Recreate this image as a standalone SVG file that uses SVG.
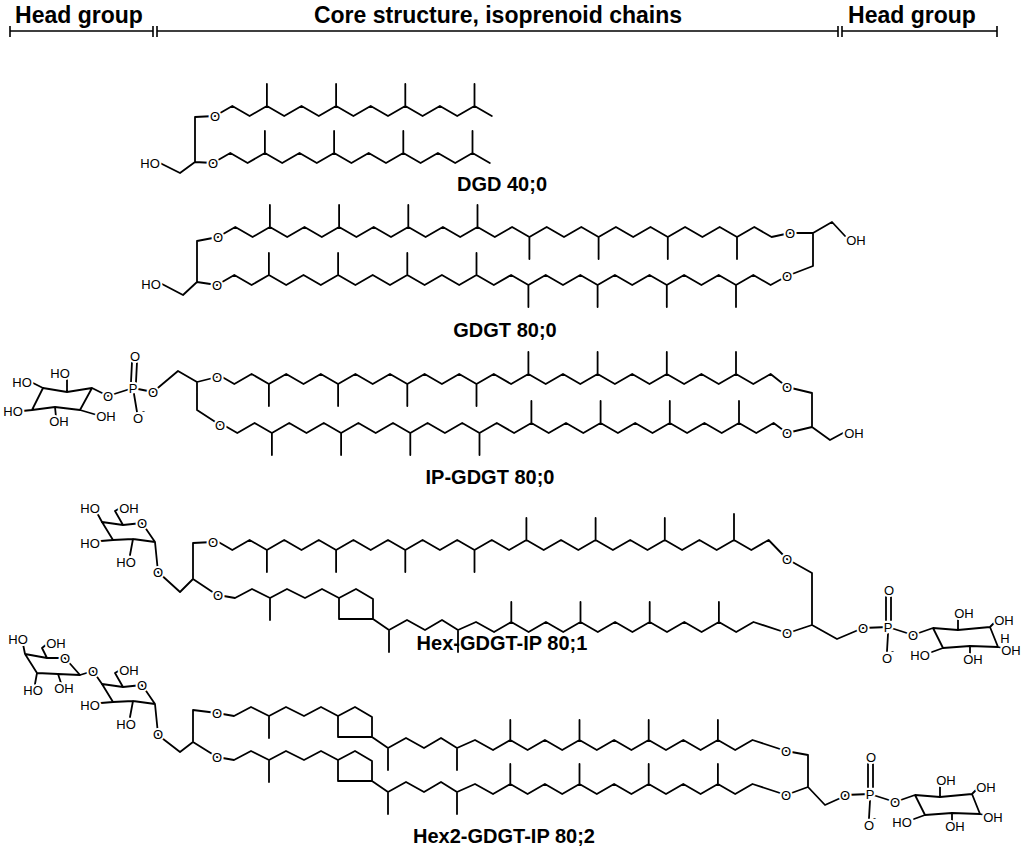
<svg xmlns="http://www.w3.org/2000/svg" xmlns:xlink="http://www.w3.org/1999/xlink" width="1024" height="856" viewBox="0 0 1024 856">
<style>
.b{fill:none;stroke:#000;stroke-width:1.8;stroke-linejoin:round;stroke-linecap:round}
.a{font-family:"Liberation Sans",Arial,sans-serif;font-size:13px;text-anchor:middle}
.c{font-family:"Liberation Sans",Arial,sans-serif;font-size:9px}
.t{font-family:"Liberation Sans",Arial,sans-serif;font-weight:bold;font-size:23px;text-anchor:middle;fill:#000}
.n{font-family:"Liberation Sans",Arial,sans-serif;font-weight:bold;font-size:20px;text-anchor:middle;fill:#000}
.h{fill:none;stroke:#000;stroke-width:1.6}
</style>
<defs>
<path id="cp" class="b" d="M218,595 L235,598 L252,589 L270,598 L287,589 L305,598 L322,589 L339,598 M270,598 V620 M339,598 L356,589 L373,599 L373,619 L339,619 Z M373,619 L389,630 L407,620 L425,630 L442,620 L458,630 L476,622 L494,632 M389,630 V652 M458,630 V652 M494,632 l17.3,-10 v-20 m0,20 l17.3,10 l17.3,-10 l17.3,10 l17.3,-10 v-20 m0,20 l17.3,10 l17.3,-10 l17.3,10 l17.3,-10 v-20 m0,20 l17.3,10 l17.3,-10 l17.3,10 l17.3,-10 v-20 m0,20 l17.3,10 l17.3,-10 L787,633"/>
<g id="cpL">
<text class="a" x="218" y="600">O</text>
<text class="a" x="787" y="638">O</text>
</g>
<path id="ipR" class="b" d="M863,628 L888,627 M886,620 L886,597 M891,620 L891,597 M888,634 L887,651 M888,627 L913,635 L933,628 M933,628 L958,630 L990,627 L998,647 L970,646 L943,648 Z M958,630 L958,618 M990,627 L995,622 M998,647 L1002,648 M970,646 L970,654 M943,648 L932,652"/>
<g id="ipL">
<text class="a" x="863" y="633">O</text>
<text class="a" x="888" y="632">P</text>
<text class="a" x="889" y="595">O</text>
<text class="a" x="887" y="663">O</text>
<text class="c" x="891" y="654">-</text>
<text class="a" x="913" y="640">O</text>
<text class="a" x="964" y="618">OH</text>
<text class="a" x="1004" y="625">OH</text>
<text class="a" x="1011" y="655">OH</text>
<text class="a" x="973" y="664">OH</text>
<text class="a" x="920" y="660">HO</text>
</g>
<path id="hexring" class="b" d="M102,522 L123,525 L142,523 L155,542 L133,539 L113,540 Z M123,525 L115,511 L120,508 M113,540 L101,541 M133,539 L130,555 M155,542 L158,572"/>
<g id="hexL">
<text class="a" x="142" y="528">O</text>
<text class="a" x="129" y="513">OH</text>
<text class="a" x="90" y="548">HO</text>
<text class="a" x="126" y="567">HO</text>
<text class="a" x="158" y="577">O</text>
</g>
<g id="labels">
<g id="DGD">
<text class="a" x="215" y="121">O</text>
<text class="a" x="213" y="168">O</text>
<text class="a" x="150" y="168">HO</text>
</g>
<g id="GDGT">
<text class="a" x="218" y="242">O</text>
<text class="a" x="217" y="290">O</text>
<text class="a" x="151" y="289">HO</text>
<text class="a" x="790" y="238">O</text>
<text class="a" x="787" y="281">O</text>
<text class="a" x="856" y="245">OH</text>
</g>
<g id="IP-GDGT">
<text class="a" x="217" y="382">O</text>
<text class="a" x="220" y="430">O</text>
<text class="a" x="787" y="392">O</text>
<text class="a" x="787" y="438">O</text>
<text class="a" x="854" y="438">OH</text>
<text class="a" x="153" y="397">O</text>
<text class="a" x="133" y="393">P</text>
<text class="a" x="135" y="361">O</text>
<text class="a" x="138" y="423">O</text>
<text class="c" x="142" y="414">-</text>
<text class="a" x="108" y="401">O</text>
<text class="a" x="22" y="387">HO</text>
<text class="a" x="60" y="378">HO</text>
<text class="a" x="106" y="421">OH</text>
<text class="a" x="59" y="426">OH</text>
<text class="a" x="13" y="416">HO</text>
</g>
<g id="Hex-GDGT-IP">
<use xlink:href="#cpL"/>
<use xlink:href="#ipL"/>
<use xlink:href="#hexL"/>
<text class="a" x="213" y="547">O</text>
<text class="a" x="787" y="564">O</text>
<text class="a" x="90" y="513">HO</text>
<text class="a" x="1005" y="643">H</text>
</g>
<g id="Hex2-GDGT-IP">
<use xlink:href="#cpL" transform="translate(-1,118)"/>
<use xlink:href="#cpL" transform="translate(-1,162)"/>
<use xlink:href="#ipL" transform="translate(-18,167)"/>
<use xlink:href="#hexL" transform="translate(0,162)"/>
<text class="a" x="65" y="663">O</text>
<text class="a" x="18" y="644">HO</text>
<text class="a" x="56" y="648">OH</text>
<text class="a" x="33" y="695">HO</text>
<text class="a" x="64" y="693">OH</text>
<text class="a" x="93" y="676">O</text>
</g>
</g>
</defs>

<g id="header">
<path class="h" d="M10,31 H153 M10,26 V37 M153,26 V37 M157,26 V37 M157,31 H838 M838,26 V37 M842,26 V37 M842,31 H997 M997,26 V37"/>
<text class="t" x="79" y="23">Head group</text>
<text class="t" x="498" y="23">Core structure, isoprenoid chains</text>
<text class="t" x="912" y="23">Head group</text>
</g>

<g id="connectors">
<path class="b" d="M215,116 l17.3,-10 l17.3,10 l17.3,-10 v-22 m0,22 l17.3,10 l17.3,-10 l17.3,10 l17.3,-10 v-22 m0,22 l17.3,10 l17.3,-10 l17.3,10 l17.3,-10 v-22 m0,22 l17.3,10 l17.3,-10 l17.3,10 l17.3,-10 v-22 m0,22 l17.3,10"/>
<path class="b" d="M213,163 l17.3,-10 l17.3,10 l17.3,-10 v-22 m0,22 l17.3,10 l17.3,-10 l17.3,10 l17.3,-10 v-22 m0,22 l17.3,10 l17.3,-10 l17.3,10 l17.3,-10 v-22 m0,22 l17.3,10 l17.3,-10 l17.3,10 l17.3,-10 v-22 m0,22 l17.3,10"/>
<path class="b" d="M215,116 L195,117 L195,162 L213,163 M195,162 L180,173 L160,163"/>
<path class="b" d="M218,237 l17.3,-10 l17.3,10 l17.3,-10 v-22 m0,22 l17.3,10 l17.3,-10 l17.3,10 l17.3,-10 v-22 m0,22 l17.3,10 l17.3,-10 l17.3,10 l17.3,-10 v-22 m0,22 l17.3,10 l17.3,-10 l17.3,10 l17.3,-10 v-22 m0,22 l17.3,10 l17.3,-10 l17.3,10 v22 m0,-22 l17.3,-10 l17.3,10 l17.3,-10 l17.3,10 v22 m0,-22 l17.3,-10 l17.3,10 l17.3,-10 l17.3,10 v22 m0,-22 l17.3,-10 l17.3,10 l17.3,-10 l17.3,10 v22 m0,-22 l17.3,-10 l17.3,10 L790,233"/>
<path class="b" d="M217,285 l17.3,-10 l17.3,10 l17.3,-10 v-22 m0,22 l17.3,10 l17.3,-10 l17.3,10 l17.3,-10 v-22 m0,22 l17.3,10 l17.3,-10 l17.3,10 l17.3,-10 v-22 m0,22 l17.3,10 l17.3,-10 l17.3,10 l17.3,-10 v-22 m0,22 l17.3,10 l17.3,-10 l17.3,10 v22 m0,-22 l17.3,-10 l17.3,10 l17.3,-10 l17.3,10 v22 m0,-22 l17.3,-10 l17.3,10 l17.3,-10 l17.3,10 v22 m0,-22 l17.3,-10 l17.3,10 l17.3,-10 l17.3,10 v22 m0,-22 l17.3,-10 l17.3,10 L787,276"/>
<path class="b" d="M790,233 L813,233 L832,222 L845,236 M813,233 L813,266 L787,276 M218,237 L197,241 L197,282 L217,285 M197,282 L183,295 L162,284"/>
<path class="b" d="M217,374 l17.3,10 l17.3,-10 l17.3,10 v22 m0,-22 l17.3,-10 l17.3,10 l17.3,-10 l17.3,10 v22 m0,-22 l17.3,-10 l17.3,10 l17.3,-10 l17.3,10 v22 m0,-22 l17.3,-10 l17.3,10 l17.3,-10 l17.3,10 v22 m0,-22 l17.3,-10 l17.3,10 l17.3,-10 v-22 m0,22 l17.3,10 l17.3,-10 l17.3,10 l17.3,-10 v-22 m0,22 l17.3,10 l17.3,-10 l17.3,10 l17.3,-10 v-22 m0,22 l17.3,10 l17.3,-10 l17.3,10 l17.3,-10 v-22 m0,22 l17.3,10 l17.3,-10 L787,387"/>
<path class="b" d="M220,423 l17.3,10 l17.3,-10 l17.3,10 v22 m0,-22 l17.3,-10 l17.3,10 l17.3,-10 l17.3,10 v22 m0,-22 l17.3,-10 l17.3,10 l17.3,-10 l17.3,10 v22 m0,-22 l17.3,-10 l17.3,10 l17.3,-10 l17.3,10 v22 m0,-22 l17.3,-10 l17.3,10 l17.3,-10 v-22 m0,22 l17.3,10 l17.3,-10 l17.3,10 l17.3,-10 v-22 m0,22 l17.3,10 l17.3,-10 l17.3,10 l17.3,-10 v-22 m0,22 l17.3,10 l17.3,-10 l17.3,10 l17.3,-10 v-22 m0,22 l17.3,10 l17.3,-10 L787,433"/>
<path class="b" d="M787,387 L812,393 L812,427 L787,433 M812,427 L830,440 L843,433 M217,377 L197,382 L178,371 L153,392 M197,382 L197,410 L220,425"/>
<path class="b" d="M153,392 L133,388 M131,382 L132,362 M136,382 L137,362 M134,394 L137,412 M133,388 L108,396 L92,388 M43,388 L67,392 L92,388 L80,410 L55,407 L32,410 Z M43,388 L33,383 M67,392 L67,379 M80,410 L97,415 M55,407 L56,417 M32,410 L22,411"/>
<path class="b" d="M215,540 l17.3,10 l17.3,-10 l17.3,10 v22 m0,-22 l17.3,-10 l17.3,10 l17.3,-10 l17.3,10 v22 m0,-22 l17.3,-10 l17.3,10 l17.3,-10 l17.3,10 v22 m0,-22 l17.3,-10 l17.3,10 l17.3,-10 l17.3,10 v22 m0,-22 l17.3,-10 l17.3,10 l17.3,-10 v-22 m0,22 l17.3,10 l17.3,-10 l17.3,10 l17.3,-10 v-22 m0,22 l17.3,10 l17.3,-10 l17.3,10 l17.3,-10 v-22 m0,22 l17.3,10 l17.3,-10 l17.3,10 l17.3,-10 v-26 m0,26 l17.3,10 l17.3,-10 L787,559"/>
<path class="b" d="M787,559 L812,573 L812,625 L788,633 M812,625 L837,639 L863,628 M213,542 L193,543 L193,579 L217,595 M193,579 L180,592 L158,572 M102,522 L96,511"/>
<use xlink:href="#cp"/>
<use xlink:href="#ipR"/>
<use xlink:href="#hexring"/>
<path class="b" d="M217,713 L193,710 L193,742 L217,757 M193,742 L180,752 L158,735 M786,751 L808,755 L808,787 L786,795 M808,787 L825,805 L845,796"/>
<use xlink:href="#cp" transform="translate(-1,118)"/>
<use xlink:href="#cp" transform="translate(-1,162)"/>
<use xlink:href="#ipR" transform="translate(-18,167)"/>
<use xlink:href="#hexring" transform="translate(0,162)"/>
<path class="b" d="M25,654 L47,658 L65,658 L80,675 L58,674 L37,673 Z M25,654 L23,644 M47,658 L42,648 L47,644 M37,673 L35,684 M58,674 L61,683 M80,675 L93,671 L102,684"/>
</g>

<g id="atom-labels">
<use xlink:href="#labels" fill="#fff" stroke="#fff" stroke-width="4" stroke-linejoin="round"/>
<use xlink:href="#labels" fill="#000"/>
</g>

<g id="names">
<text class="n" x="502" y="191">DGD 40;0</text>
<text class="n" x="505" y="337">GDGT 80;0</text>
<text class="n" x="490" y="484">IP-GDGT 80;0</text>
<text class="n" x="502" y="650">Hex-GDGT-IP 80;1</text>
<text class="n" x="504" y="843">Hex2-GDGT-IP 80;2</text>
</g>
</svg>
